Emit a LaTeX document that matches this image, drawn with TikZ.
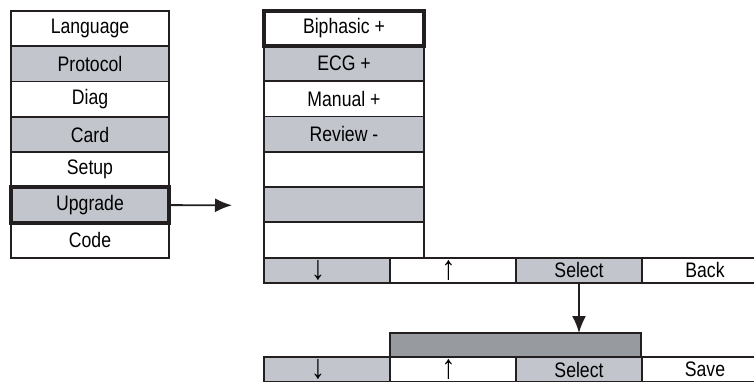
\documentclass[tikz,border=0pt]{standalone}
\usepackage{fontspec}
\setmainfont{Liberation Sans}[FakeStretch=0.84]
\usetikzlibrary{arrows.meta,positioning}
\definecolor{menuGrey}{RGB}{194,198,204}
\definecolor{menuDarkGrey}{RGB}{151,155,160}
\definecolor{menuLine}{RGB}{35,31,32}
\newcommand{\keyarrow}[2]{{\fontsize{34}{34}\selectfont #1}\kern#2}

\begin{document}
\begin{tikzpicture}[x=1pt,y=-1pt,
  item/.style={draw=menuLine,line width=1.8pt,fill=white,minimum width=158pt,minimum height=35.3pt,inner sep=0pt,outer sep=0pt,font=\fontsize{21}{24}\selectfont},
  key/.style={draw=menuLine,line width=1.8pt,fill=white,minimum width=126pt,minimum height=25pt,inner sep=0pt,outer sep=0pt,font=\fontsize{21}{24}\selectfont},
  shaded/.style={fill=menuGrey},
  current/.style={draw=menuLine,line width=4pt},
  arrow/.style={-{Latex[length=17pt,width=14pt]},line width=1.8pt,menuLine}
]
  \useasboundingbox (0,0) rectangle (754,381);
  \clip (0,0) rectangle (754,381);
  % left menu
  \node[item] (lang) at (90,28.6) {Language};
  \node[item,shaded,below=0pt of lang] (proto) {Protocol};
  \node[item,below=0pt of proto] (diag) {Diag};
  \node[item,shaded,below=0pt of diag] (card) {Card};
  \node[item,below=0pt of card] (setup) {Setup};
  \node[item,shaded,below=0pt of setup] (upg) {Upgrade};
  \node[item,below=0pt of upg] (code) {Code};
  \draw[current] (upg.north west) rectangle (upg.south east);
  % upgrade submenu
  \node[item,minimum width=160pt] (biph) at (344,28.2) {Biphasic +};
  \node[item,shaded,minimum width=160pt,below=0pt of biph] (ecg) {ECG +};
  \node[item,minimum width=160pt,below=0pt of ecg] (manual) {Manual +};
  \node[item,shaded,minimum width=160pt,below=0pt of manual] (review) {Review -};
  \node[item,minimum width=160pt,below=0pt of review] (blankA) {};
  \node[item,shaded,minimum width=160pt,below=0pt of blankA] (blankB) {};
  \node[item,minimum width=160pt,below=0pt of blankB] (blankC) {};
  \draw[current] (biph.north west) rectangle (biph.south east);
  % soft keys
  \node[key,shaded,below right=0pt of blankC.south west] (downA) {\keyarrow{↓}{18pt}};
  \node[key,right=0pt of downA] (upA) {\keyarrow{↑}{9pt}};
  \node[key,shaded,right=0pt of upA] (selA) {Select};
  \node[key,right=0pt of selA] (back) {Back};
  % edit field
  \node[draw=menuLine,line width=1.8pt,fill=menuDarkGrey,minimum width=251pt,minimum height=24pt,inner sep=0pt,outer sep=0pt,anchor=north west] (field) at (390,333) {};
  \node[key,shaded,below left=0pt of field.south west] (downB) {\keyarrow{↓}{18pt}};
  \node[key,right=0pt of downB] (upB) {\keyarrow{↑}{9pt}};
  \node[key,shaded,right=0pt of upB] (selB) {Select};
  \node[key,right=0pt of selB] (save) {Save};
  % links
  \coordinate (gap) at (232,205.3);
  \draw[arrow] (upg.east) -- (gap);
  \draw[arrow] (selA.south) -- (selA.south |- field.north);
\end{tikzpicture}
\end{document}
